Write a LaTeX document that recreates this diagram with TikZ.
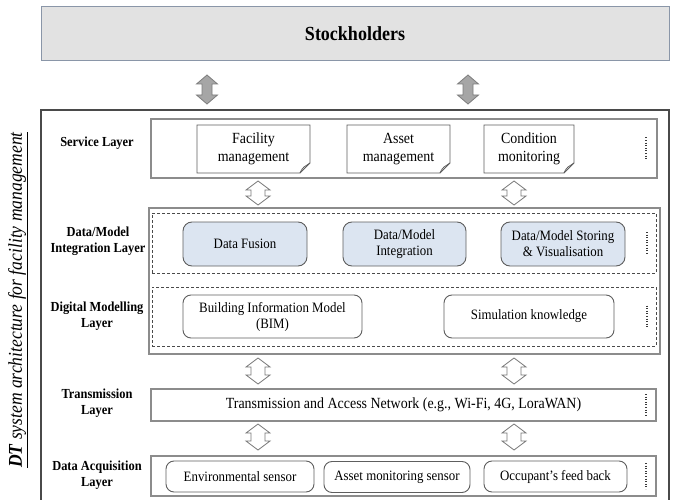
\documentclass[tikz,border=0pt]{standalone}
\usepackage{fontspec}
\setmainfont{Liberation Serif}[FakeStretch=0.9]
\usetikzlibrary{calc}

\definecolor{stockfill}{HTML}{E2E2E2}
\definecolor{stockline}{HTML}{8A96A8}
\definecolor{outerline}{HTML}{4A4A4A}
\definecolor{layerline}{HTML}{8C8C8C}
\definecolor{dashline}{HTML}{4A4A4A}
\definecolor{boxline}{HTML}{5E5E5E}
\definecolor{bluefill}{HTML}{DCE5F1}
\definecolor{dotcol}{HTML}{3A3A3A}
\definecolor{grayfill}{HTML}{A6A6A6}
\definecolor{grayline}{HTML}{7C7C7C}
\definecolor{arrline}{HTML}{777777}

% vertical two-headed block arrow: style, top point, bottom point,
% head half-width, shaft half-width, head length
\newcommand\vdarrow[6]{%
  \draw[#1] let \p1=#2, \p2=#3 in
    (\x1,\y1) -- (\x1+#4,\y1-#6) -- (\x1+#5,\y1-#6) -- (\x1+#5,\y2+#6)
    -- (\x1+#4,\y2+#6) -- (\x1,\y2) -- (\x1-#4,\y2+#6) -- (\x1-#5,\y2+#6)
    -- (\x1-#5,\y1-#6) -- (\x1-#4,\y1-#6) -- cycle;}

\begin{document}
\begin{tikzpicture}[x=1pt,y=-1pt,
  every node/.style={outer sep=0pt},
  stockbox/.style={draw=stockline, fill=stockfill, line width=1pt,
    font=\fontsize{20}{23}\selectfont\bfseries},
  outerbox/.style={draw=outerline, line width=1.3pt},
  layerbox/.style={draw=layerline, line width=1.2pt, align=center,
    font=\fontsize{15.5}{18}\selectfont},
  dashbox/.style={draw=dashline, dash pattern=on 3pt off 2pt, line width=0.8pt},
  notebox/.style={align=center, font=\fontsize{15.5}{17.5}\selectfont},
  noteline/.style={draw=boxline, fill=white, line width=0.9pt},
  bluebox/.style={draw=boxline, fill=bluefill, rounded corners=9pt,
    line width=0.9pt, align=center, font=\fontsize{14.3}{16}\selectfont},
  roundbox/.style={draw=boxline, fill=white, rounded corners=8pt,
    line width=0.9pt, align=center, font=\fontsize{14.3}{16}\selectfont},
  layerlabel/.style={align=center, font=\fontsize{13.8}{15.5}\selectfont\bfseries},
  more/.style={draw=dotcol, line width=1.3pt, dash pattern=on 1pt off 1.6pt},
  hollowarrow/.style={draw=arrline, fill=white, line width=0.8pt},
  solidarrow/.style={draw=grayline, fill=grayfill, line width=0.8pt},
]
\useasboundingbox (0,0) rectangle (675,500);
\clip (0,0) rectangle (675,500);

% stakeholders bar
\node[stockbox, minimum width=628pt, minimum height=54pt] (stock) at (355,34) {Stockholders};

% outer frame of the architecture
\node[outerbox, minimum width=628pt, minimum height=400pt] (outer) at (355,310) {};

% title along the left side
\node[rotate=90, font=\fontsize{19.5}{22}\selectfont\itshape] (title) at (18,300)
  {\underline{\textbf{DT} system architecture for facility management}};

% service layer
\node[layerbox, minimum width=506pt, minimum height=59pt] (svc) at (404,148.5) {};
\node[layerlabel] (svclab) at (97,143) {Service Layer};
\node[notebox, minimum width=113pt, minimum height=48pt] (fac) at (253.5,149) {};
\node[notebox, minimum width=103pt, minimum height=48pt] (ast) at (398.5,149) {};
\node[notebox, minimum width=90pt, minimum height=48pt] (cond) at (529,149) {};
\foreach \n in {fac,ast,cond}{
  \draw[noteline] (\n.north west) -- (\n.north east) -- ($(\n.south east)+(0,-10)$)
    -- ($(\n.south east)+(-10,0)$) -- (\n.south west) -- cycle;
  \draw[draw=boxline, line width=0.8pt] ($(\n.south east)+(-10,0)$)
    .. controls ($(\n.south east)+(-8,-4)$) .. ($(\n.south east)+(-6,-6)$)
    -- ($(\n.south east)+(0,-10)$);
}
\node[notebox] at (fac) {Facility\\management};
\node[notebox] at (ast) {Asset\\management};
\node[notebox] at (cond) {Condition\\monitoring};
\draw[more] ($(svc.east)+(-11,-11)$) -- ($(svc.east)+(-11,12)$);

% data/model integration and digital modelling layers
\node[layerbox, minimum width=511pt, minimum height=146pt] (cont) at (404.5,281) {};
\node[dashbox, minimum width=504pt, minimum height=60pt] (intg) at (404,243) {};
\node[dashbox, minimum width=504pt, minimum height=59pt] (mdl) at (404,316.5) {};
\node[layerlabel] (intlab) at (98,241) {Data/Model\\Integration Layer};
\node[layerlabel] (mdllab) at (97,316) {Digital Modelling\\Layer};

\node[bluebox, minimum width=124pt, minimum height=44pt] (df) at (245,244) {Data Fusion};
\node[bluebox, minimum width=123pt, minimum height=44pt] (dmi) at (404.5,244) {Data/Model\\Integration};
\node[bluebox, minimum width=124pt, minimum height=44pt] (dms) at (563,244) {Data/Model Storing\\\& Visualisation};
\draw[more] ($(intg.east)+(-9,-11)$) -- ($(intg.east)+(-9,11)$);

\node[roundbox, minimum width=179pt, minimum height=43pt] (bim) at (272.5,316.5) {Building Information Model\\(BIM)};
\node[roundbox, minimum width=170pt, minimum height=43pt] (sim) at (529,316.5) {Simulation knowledge};
\draw[more] ($(mdl.east)+(-9,-11)$) -- ($(mdl.east)+(-9,11)$);

% transmission layer
\node[layerbox, minimum width=505pt, minimum height=32pt] (trans) at (403.5,405)
  {Transmission and Access Network (e.g., Wi-Fi, 4G, LoraWAN)};
\node[layerlabel] (translab) at (97,403) {Transmission\\Layer};
\draw[more] ($(trans.east)+(-10,-11)$) -- ($(trans.east)+(-10,11)$);

% data acquisition layer
\node[layerbox, minimum width=505pt, minimum height=40pt] (acq) at (403.5,476) {};
\node[layerlabel] (acqlab) at (97,475) {Data Acquisition\\Layer};
\node[roundbox, minimum width=148pt, minimum height=31pt] (env) at (240,476.5) {Environmental sensor};
\node[roundbox, minimum width=146pt, minimum height=31pt] (asm) at (397,477) {Asset monitoring sensor};
\node[roundbox, minimum width=143pt, minimum height=31pt] (occ) at (555.5,476.5) {Occupant’s feed back};
\draw[more] ($(acq.east)+(-10,-13)$) -- ($(acq.east)+(-10,13)$);

% columns of the exchange arrows
\coordinate (topA) at (207,0);
\coordinate (topB) at (468,0);
\coordinate (colA) at (258,0);
\coordinate (colB) at (514,0);

% stakeholders <-> architecture
\foreach \c in {topA,topB}{
  \vdarrow{solidarrow}{($(\c|-stock.south)+(0,14)$)}{($(\c|-outer.north)+(0,-6)$)}{10.5pt}{5pt}{9pt}
}
% exchanges between layers
\foreach \c in {colA,colB}{
  \vdarrow{hollowarrow}{($(\c|-svc.south)+(0,3)$)}{($(\c|-cont.north)+(0,-3)$)}{12pt}{7pt}{9pt}
  \vdarrow{hollowarrow}{($(\c|-cont.south)+(0,4)$)}{($(\c|-trans.north)+(0,-5)$)}{12pt}{7pt}{9pt}
  \vdarrow{hollowarrow}{($(\c|-trans.south)+(0,3)$)}{($(\c|-acq.north)+(0,-6)$)}{12pt}{7pt}{9pt}
}
\end{tikzpicture}
\end{document}
